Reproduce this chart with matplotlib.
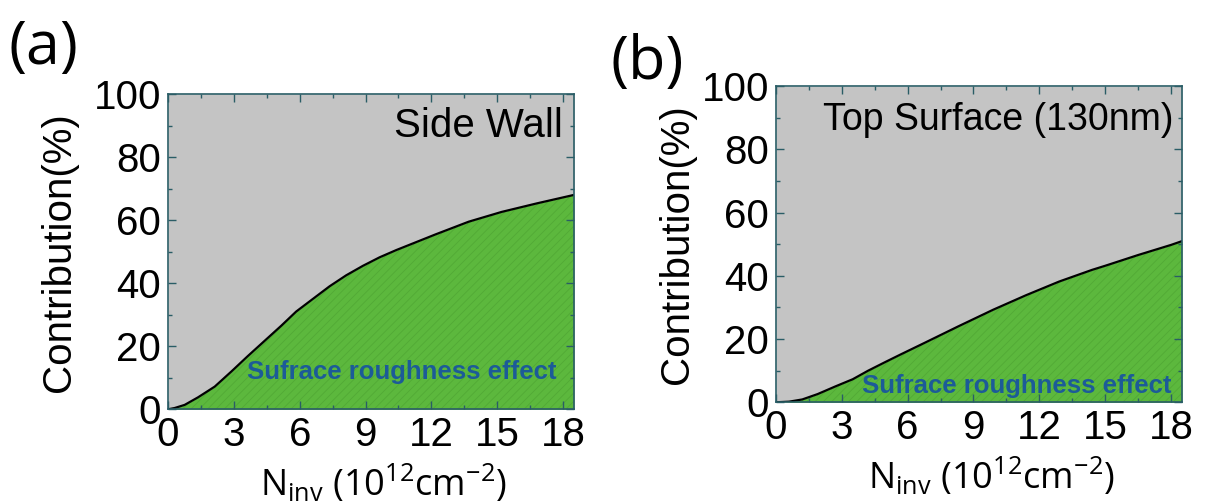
import numpy as np
import matplotlib
matplotlib.use("Agg")
import matplotlib.pyplot as plt
from matplotlib.ticker import MultipleLocator

plt.rcParams['font.family'] = ['Liberation Sans', 'DejaVu Sans']
plt.rcParams['mathtext.fontset'] = 'custom'
plt.rcParams['mathtext.rm'] = 'Open Sans'
plt.rcParams['hatch.linewidth'] = 0.6

# side wall contribution (%) vs N_inv (1e12 cm^-2)
n_side = [0, 0.3, 0.76, 1.37, 2.13, 2.89, 3.64, 4.4, 5.16, 5.84, 6.6, 7.36, 8.12, 8.88,
          9.64, 10.4, 11.3, 12.2, 13.7, 15.2, 16.8, 18.5]
c_side = [0, 0.4, 1.4, 3.8, 7.2, 12.0, 16.9, 21.7, 26.5, 31.0, 35.0, 39.0, 42.5, 45.5,
          48.2, 50.5, 53.0, 55.5, 59.5, 62.6, 65.3, 68.0]

# top surface (130nm)
n_top = [0, 0.6, 1.2, 1.9, 2.7, 3.5, 4.2, 5.0, 5.7, 6.8, 8.3, 9.9, 11.4, 12.9,
         14.4, 15.0, 16.5, 18.0, 18.5]
c_top = [0, 0.2, 0.9, 2.6, 5.0, 7.3, 10.0, 12.8, 15.2, 18.9, 24.0, 29.3, 33.9, 38.2,
         41.9, 43.2, 46.6, 49.8, 51.0]

panels = [
    ("(a)", "Side Wall", n_side, c_side),
    ("(b)", "Top Surface (130nm)", n_top, c_top),
]
x_ticks = [0, 3, 6, 9, 12, 15, 18]
y_ticks = [0, 20, 40, 60, 80, 100]

GRAY = '#c4c4c4'
GREEN = '#5cb83d'
BLUE = '#1c5b98'
FRAME = '#2a5d66'

fig = plt.figure(figsize=(12.06, 5.04), dpi=100)
boxes = [[0.1393, 0.1879, 0.3367, 0.6256], [0.6434, 0.2018, 0.3367, 0.6270]]
letter_pos = [(0.007, 0.905), (0.506, 0.875)]
text_pos = [(18.0, 90.0, 29), (18.1, 89.3, 27)]
sre_pos = [(17.7, 11.8), (18.0, 5.2)]
ylabel_pad = [11, 4]

for i, (letter, name, n, c) in enumerate(panels):
    ax = fig.add_axes(boxes[i])
    n = np.array(n)
    c = np.array(c)
    ax.fill_between(n, c, 100, color=GRAY, lw=0)
    ax.fill_between(n, 0, c, color=GREEN, lw=0)
    ax.fill_between(n, 0, c, facecolor='none', edgecolor='#52a936', hatch='////', lw=0)
    ax.plot(n, c, color='black', lw=1.6, solid_joinstyle='round')

    ax.set_xlim(0, 18.5)
    ax.set_ylim(0, 100)
    ax.set_xticks(x_ticks)
    ax.set_yticks(y_ticks)
    ax.xaxis.set_minor_locator(MultipleLocator(1.5))
    ax.yaxis.set_minor_locator(MultipleLocator(10))
    ax.tick_params(which='both', direction='in', top=True, right=True,
                   color=FRAME, labelsize=29, pad=5)
    ax.tick_params(which='major', length=6, width=1)
    ax.tick_params(which='minor', length=3, width=1)
    for s in ax.spines.values():
        s.set_color(FRAME)
        s.set_linewidth(1.2)

    ax.set_ylabel("Contribution(%)", fontsize=29, labelpad=ylabel_pad[i])
    ax.set_xlabel(r"N$_{\rm inv}$ (10$^{12}$cm$^{-2}$)", fontsize=26,
                  family='Open Sans', labelpad=0)
    ax.xaxis.set_label_coords(0.53, -0.17)

    tx, ty, tsize = text_pos[i]
    ax.text(tx, ty, name, fontsize=tsize, ha='right', va='center')
    sx, sy = sre_pos[i]
    ax.text(sx, sy, "Sufrace roughness effect", fontsize=18.5, fontweight='bold',
            color=BLUE, ha='right', va='center')

    fig.text(letter_pos[i][0], letter_pos[i][1], letter, fontsize=44,
             family='Open Sans', ha='left', va='center')

fig.savefig("out.png", dpi=100, facecolor='white')
